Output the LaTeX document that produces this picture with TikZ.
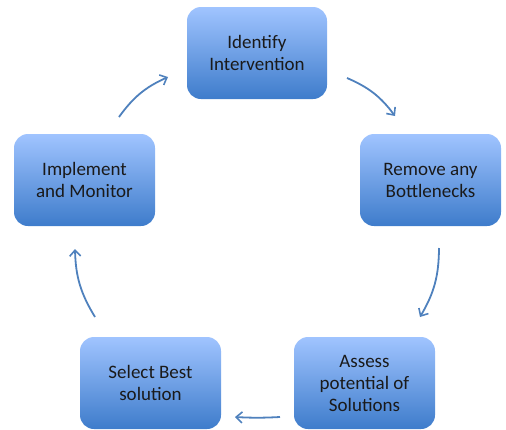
\documentclass[tikz,border=0pt]{standalone}
\usepackage{fontspec}
\setmainfont{Carlito}
\usetikzlibrary{arrows.meta}
\definecolor{boxtop}{HTML}{A0C4FF}
\definecolor{boxbot}{HTML}{3E7CCB}
\definecolor{arrowc}{HTML}{4F81BD}
\definecolor{txt}{HTML}{1A1A1A}
\tikzset{
  stepbox/.style={rectangle, rounded corners=14pt, minimum width=141pt, minimum height=92pt,
    top color=boxtop, bottom color=boxbot, draw=none, align=center, text=txt,
    font=\fontsize{19pt}{22pt}\selectfont, inner sep=0pt},
  flow/.style={draw=arrowc, line width=1.8pt, -{Straight Barb[length=6pt,width=11pt,line width=1.6pt]}, bend left=15}
}
\begin{document}
\begin{tikzpicture}[x=1pt,y=-1pt]
\useasboundingbox (0,0) rectangle (506,429);
\node[stepbox, minimum width=140pt] (ident) at (257,53) {Identify\\Intervention};
\node[stepbox] (remove) at (430.5,180) {Remove any\\Bottlenecks};
\node[stepbox] (assess) at (364.5,383) {Assess\\potential of\\Solutions};
\node[stepbox] (select) at (150.5,383) {Select Best\\solution};
\node[stepbox] (impl) at (84.5,180) {Implement\\and Monitor};
\coordinate (a1s) at (119,117); \coordinate (a1e) at (168,77);
\coordinate (a2s) at (347,78);  \coordinate (a2e) at (395,116);
\coordinate (a3s) at (439,248); \coordinate (a3e) at (420,317);
\coordinate (a4s) at (280,417); \coordinate (a4e) at (235,417);
\coordinate (a5s) at (95,317);  \coordinate (a5e) at (75,249);
\draw[flow] (a1s) to (a1e);
\draw[flow] (a2s) to (a2e);
\draw[flow] (a3s) to (a3e);
\draw[flow, bend left=3] (a4s) to (a4e);
\draw[flow] (a5s) to (a5e);
\end{tikzpicture}
\end{document}
